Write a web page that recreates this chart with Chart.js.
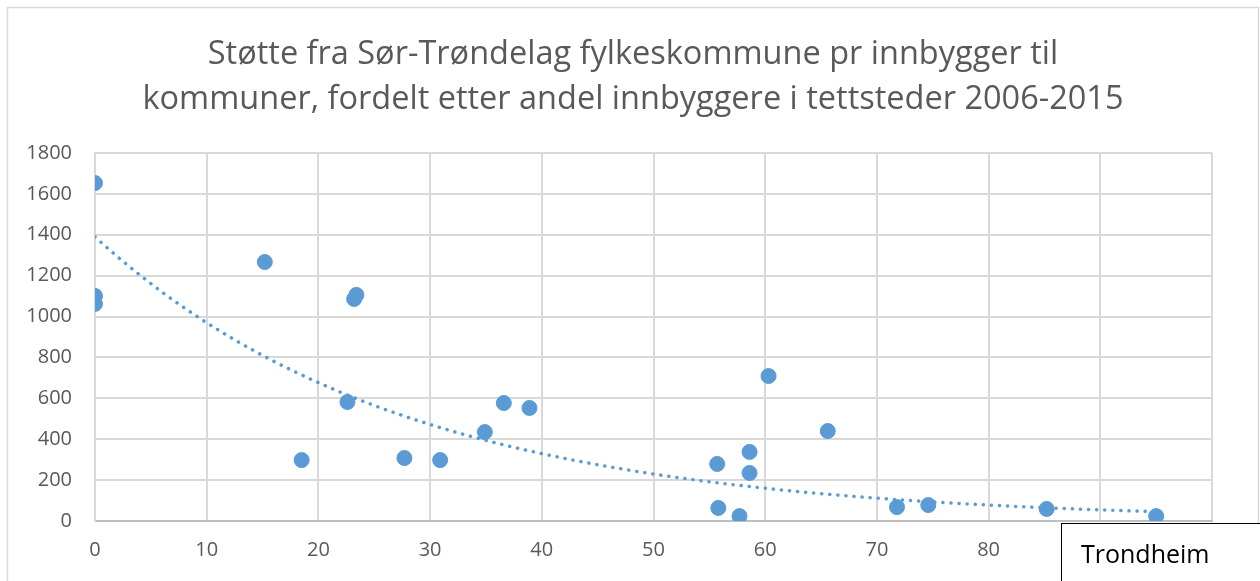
<!DOCTYPE html>
<html>
<head>
<meta charset="utf-8">
<script src="https://cdn.jsdelivr.net/npm/chart.js@4/dist/chart.umd.min.js"></script>
<style>
  html, body { margin: 0; padding: 0; background: #fff; }
  #wrap { position: relative; width: 1260px; height: 581px; }
</style>
</head>
<body>
<div id="wrap"><canvas id="scatterChart" width="1260" height="581"></canvas></div>
<script>
// Andel innbyggere i tettsteder (%) per kommune
const tettstedAndel = [0, 0, 0, 15.2, 18.5, 22.6, 23.2, 23.4, 27.7, 30.9, 34.9, 36.6, 38.9,
    55.7, 55.8, 57.7, 58.6, 58.6, 60.3, 65.6, 71.8, 74.6, 85.2, 95.0];
// Støtte pr innbygger (kr)
const stottePrInnbygger = [1653, 1101, 1062, 1267, 298, 582, 1086, 1106, 308, 298, 435, 577, 553,
    279, 64, 24, 235, 338, 709, 440, 68, 78, 59, 24];

// Eksponentiell trendlinje y = a * e^(b*x), lest av figuren
const trendA = 1390;
const trendB = -0.036;

const titleLines = [
    'Støtte fra Sør-Trøndelag fylkeskommune pr innbygger til',
    'kommuner, fordelt etter andel innbyggere i tettsteder 2006-2015'
];
const calloutText = 'Trondheim';

const FONT = "'Open Sans', 'Liberation Sans', Arial, sans-serif";
const TEXT_GREY = '#595959';
const BLUE = '#5b9bd5';

// Build points for the scatter and the trendline
const points = tettstedAndel.map((x, i) => ({ x: x, y: stottePrInnbygger[i] }));
const xMax = Math.max(...tettstedAndel);
const trendPoints = [];
for (let x = 0; x <= xMax; x += 1) {
    trendPoints.push({ x: x, y: trendA * Math.exp(trendB * x) });
}

// Border, title and the "Trondheim" callout box
const decorations = {
    id: 'decorations',
    beforeDraw(chart) {
        const ctx = chart.ctx;
        ctx.save();
        ctx.fillStyle = '#fff';
        ctx.fillRect(0, 0, chart.width, chart.height);
        ctx.strokeStyle = '#d9d9d9';
        ctx.lineWidth = 1.5;
        ctx.strokeRect(7.5, 7.5, 1251, 620);
        ctx.restore();
    },
    afterDraw(chart) {
        const ctx = chart.ctx;
        ctx.save();
        ctx.fillStyle = TEXT_GREY;
        // fit the longest title line to the width seen in the reference
        ctx.font = '30px ' + FONT;
        const w = ctx.measureText(titleLines[1]).width;
        const size = Math.min(34, 30 * 982 / w);
        ctx.font = size.toFixed(1) + 'px ' + FONT;
        ctx.textAlign = 'center';
        ctx.textBaseline = 'alphabetic';
        ctx.fillText(titleLines[0], 633, 64);
        ctx.fillText(titleLines[1], 633, 109);

        // callout
        ctx.fillStyle = '#fff';
        ctx.fillRect(1061, 523, 220, 80);
        ctx.strokeStyle = '#000';
        ctx.lineWidth = 1;
        ctx.strokeRect(1061.5, 523.5, 220, 80);
        ctx.fillStyle = '#000';
        ctx.font = '25px ' + FONT;
        ctx.textAlign = 'left';
        ctx.fillText(calloutText, 1081, 563);
        ctx.restore();
    }
};

const ctx = document.getElementById('scatterChart').getContext('2d');
new Chart(ctx, {
    type: 'scatter',
    data: {
        datasets: [
            {
                label: 'Støtte pr innbygger',
                data: points,
                backgroundColor: BLUE,
                borderColor: BLUE,
                pointRadius: 7.5,
                pointHoverRadius: 7.5,
                order: 1
            },
            {
                label: 'Trend',
                type: 'line',
                data: trendPoints,
                borderColor: BLUE,
                borderWidth: 3.5,
                borderDash: [0.1, 8],
                borderCapStyle: 'round',
                pointRadius: 0,
                fill: false,
                tension: 0,
                order: 2
            }
        ]
    },
    options: {
        responsive: false,
        animation: false,
        layout: {
            padding: { top: 153, right: 48, bottom: 0, left: 0 }
        },
        plugins: {
            legend: { display: false },
            title: { display: false },
            tooltip: { enabled: false }
        },
        scales: {
            x: {
                type: 'linear',
                min: 0,
                max: 100,
                afterFit(scale) { scale.height = 60; },
                grid: {
                    color: '#d9d9d9',
                    lineWidth: 2,
                    drawTicks: false
                },
                border: { color: '#bfbfbf', width: 2 },
                ticks: {
                    stepSize: 10,
                    padding: 17,
                    color: TEXT_GREY,
                    font: { family: FONT, size: 20 }
                }
            },
            y: {
                min: 0,
                max: 1800,
                afterFit(scale) { scale.width = 95; },
                grid: {
                    color: '#d9d9d9',
                    lineWidth: 2,
                    drawTicks: false
                },
                border: { color: '#d9d9d9', width: 2 },
                ticks: {
                    stepSize: 200,
                    padding: 23,
                    color: TEXT_GREY,
                    font: { family: FONT, size: 20 },
                    callback: value => String(value)
                }
            }
        }
    },
    plugins: [decorations]
});
</script>
</body>
</html>
